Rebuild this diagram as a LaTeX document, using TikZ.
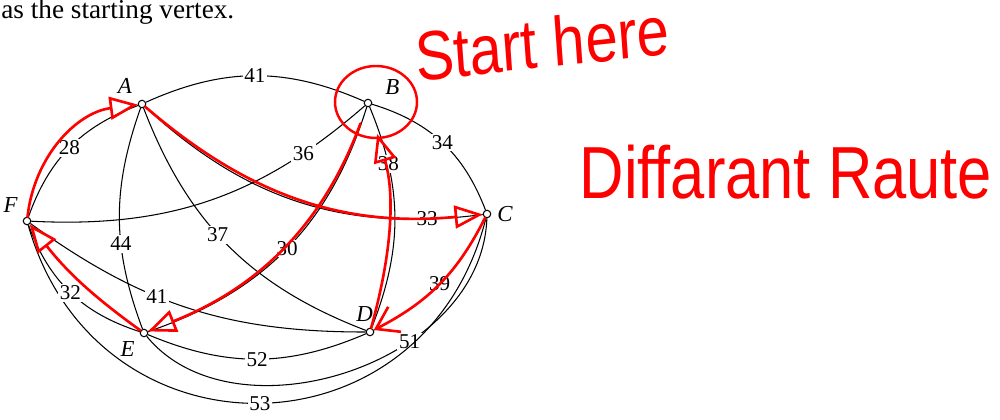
\documentclass[tikz,border=0pt]{standalone}
\usepackage{fontspec}
\setmainfont{Liberation Serif}
\newfontfamily\handfont{Liberation Sans}
\usetikzlibrary{arrows.meta}

\begin{document}
\begin{tikzpicture}[x=0.02cm, y=0.02cm,
  vtx/.style={circle, draw, fill=white, inner sep=0pt, minimum size=0.15cm, line width=0.6pt,
    label distance=0pt},
  vname/.style={font=\fontsize{13}{13}\selectfont\itshape},
  edge/.style={line width=0.6pt},
  wt/.style={fill=white, inner sep=1pt, font=\fontsize{12}{12}\selectfont},
  route/.style={red, line width=1.5pt, line cap=round,
    -{Triangle[open, length=16pt, width=13pt, line width=1.5pt]}},
  hand/.style={red, yscale=1.2, font=\handfont\fontsize{33}{33}\selectfont}]
  \useasboundingbox (0,0) rectangle (1000,419);
  \node[anchor=base west, inner sep=0pt, font=\fontsize{15.5}{15.5}\selectfont] (intro) at (1,400) {as the starting vertex.};

  \node[vtx, label={[vname, label distance=1pt]130:A}] (A) at (142,315) {};
  \node[vtx, label={[vname, label distance=4pt]10:B}]  (B) at (368,316) {};
  \node[vtx, label={[vname]0:C}]    (C) at (487,205) {};
  \node[vtx, label={[vname, xshift=-3pt]90:D}] (D) at (370,87)  {};
  \node[vtx, label={[vname]220:E}]  (E) at (144,86)  {};
  \node[vtx, label={[vname]140:F}]  (F) at (27,198)  {};

  \draw[edge] (A) to[bend left=24]  node[wt]{41} (B);
  \draw[edge] (A) to[bend right=25] node[wt]{28} (F);
  \draw[edge] (A) to[bend right=20] node[wt, pos=0.62]{44} (E);
  \draw[edge] (A) to[bend right=24] node[wt, pos=0.45]{37} (D);
  \draw[edge] (A) to[bend right=25] node[wt, pos=0.86]{33} (C);
  \draw[edge] (F) to[bend right=22] node[wt, pos=0.8]{36} (B);
  \draw[edge] (B) to[bend left=27]  node[wt, pos=0.5]{30} (E);
  \draw[edge] (B) to[bend left=22]  node[wt, pos=0.25]{38} (D);
  \draw[edge] (B) to[bend left=26]  node[wt]{34} (C);
  \draw[edge] (C) to[bend left=18]  node[wt]{39} (D);
  \draw[edge] (C) .. controls +(-5,-150) and +(90,-110) .. node[wt, pos=0.35]{51} (E);
  \draw[edge] (C) to[bend left=75, looseness=1.4] node[wt]{53} (F);
  \draw[edge] (D) to[bend left=23]  node[wt]{52} (E);
  \draw[edge] (D) to[bend left=18]  node[wt, pos=0.6]{41} (F);
  \draw[edge] (E) to[bend left=26]  node[wt]{32} (F);

  \draw[red, line width=1.4pt] (376,317) ellipse [x radius=41, y radius=36];
  \draw[route, shorten <=10pt] (B) to[bend left=24] (E);
  \draw[route] (E) to[bend left=8] (F);
  \draw[route] (F) to[bend left=38] (A);
  \draw[route] (A) to[bend right=23] (C);
  \draw[route, -{Straight Barb[length=12pt, width=16pt, line width=1.5pt]}] (C) to[bend left=18] (D);
  \draw[route, shorten >=16pt] (D) to[bend right=16] (B);

  \node[hand, rotate=5] (start) at (542,376) {Start here};
  \node[hand, font=\handfont\fontsize{35}{35}\selectfont] (route) at (786,247) {Diffarant Raute};
\end{tikzpicture}
\end{document}
